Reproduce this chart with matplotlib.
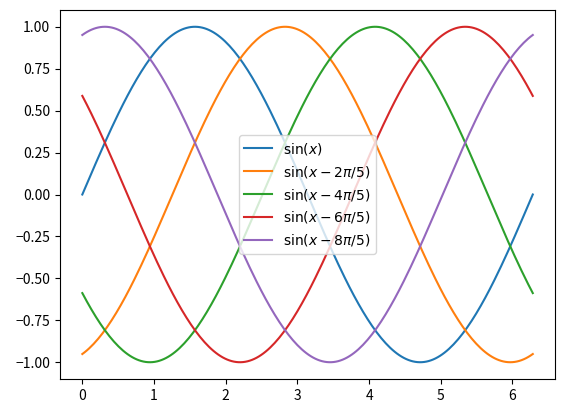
import numpy as np
import matplotlib
matplotlib.use('Agg')
import matplotlib.pyplot as plt

plt.rcParams['font.family'] = ['Noto Sans CJK JP', 'DejaVu Sans']

# phase shifts in units of pi/5, and legend labels
shifts = [0, 2, 4, 6, 8]
labels = [r'$\sin(x)$', r'$\sin(x-2\pi/5)$', r'$\sin(x-4\pi/5)$',
          r'$\sin(x-6\pi/5)$', r'$\sin(x-8\pi/5)$']
x = np.linspace(0, 2 * np.pi, 200)

fig = plt.figure(figsize=(5.65, 4.12), dpi=100)
ax = fig.add_axes([59.8 / 565, 33 / 412, 495.5 / 565, 369 / 412])

for s, lab in zip(shifts, labels):
    ax.plot(x, np.sin(x - s * np.pi / 5), label=lab)

ax.legend(loc='center')
fig.savefig('out.png', dpi=100)
